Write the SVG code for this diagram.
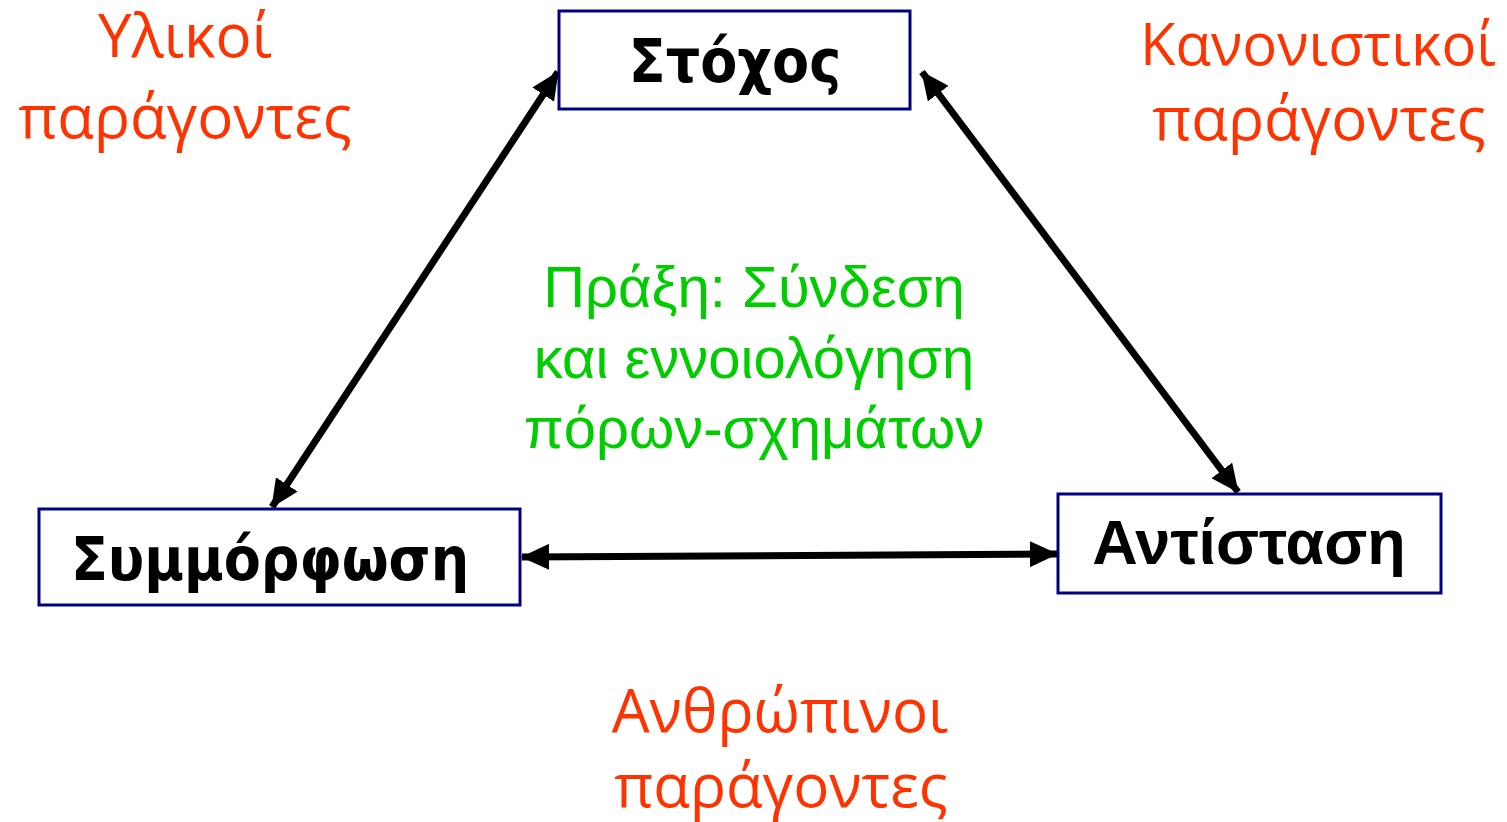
<svg xmlns="http://www.w3.org/2000/svg" width="1507" height="822" viewBox="0 0 1507 822">
<style>
.box{fill:#fff;stroke:#000080;stroke-width:3}
.nt{font-family:"DejaVu Sans Condensed","DejaVu Sans",sans-serif;font-weight:bold;font-size:60px;fill:#000;text-anchor:middle}
.nt2{font-family:"Liberation Sans",Arial,sans-serif;font-weight:bold;font-size:63px;fill:#000;text-anchor:middle}
.or{font-family:"Open Sans","DejaVu Sans",sans-serif;font-size:60px;fill:#FF3300;text-anchor:middle}
.gr{font-family:"Liberation Sans",Arial,sans-serif;font-size:58px;fill:#00CC00;text-anchor:middle}
.con{stroke:#000;stroke-width:7;fill:none;marker-start:url(#ah);marker-end:url(#ah)}
</style>
<defs>
<marker id="ah" markerUnits="userSpaceOnUse" markerWidth="28" markerHeight="26" refX="27" refY="13" orient="auto-start-reverse" viewBox="0 0 28 26">
<path d="M0,0 L28,13 L0,26 Z" fill="#000"/>
</marker>
</defs>
<rect width="1507" height="822" fill="#fff"/>
<g id="connectors">
<line class="con" x1="558" y1="72" x2="272" y2="507"/>
<line class="con" x1="922" y1="72" x2="1238" y2="492"/>
<line class="con" x1="522" y1="557" x2="1057" y2="554"/>
</g>
<g id="node-stochos">
<rect class="box" x="559" y="11" width="351" height="98"/>
<text class="nt" x="735" y="82">Στόχος</text>
</g>
<g id="node-symmorfosi">
<rect class="box" x="39" y="509" width="481" height="96"/>
<text class="nt" x="270" y="580">Συμμόρφωση</text>
</g>
<g id="node-antistasi">
<rect class="box" x="1058" y="494" width="383" height="99"/>
<text class="nt2" x="1249" y="564">Αντίσταση</text>
</g>
<g id="label-praxi">
<text class="gr" x="754" y="307">Πράξη: Σύνδεση</text>
<text class="gr" x="754" y="378">και εννοιολόγηση</text>
<text class="gr" x="754" y="448">πόρων-σχημάτων</text>
</g>
<g id="label-ylikoi">
<text class="or" x="185" y="57">Υλικοί</text>
<text class="or" x="185" y="138">παράγοντες</text>
</g>
<g id="label-kanonistikoi">
<text class="or" x="1318" y="65" style="font-size:58px">Κανονιστικοί</text>
<text class="or" x="1319" y="140">παράγοντες</text>
</g>
<g id="label-anthropinoi">
<text class="or" x="780" y="732">Ανθρώπινοι</text>
<text class="or" x="781" y="807">παράγοντες</text>
</g>
</svg>
